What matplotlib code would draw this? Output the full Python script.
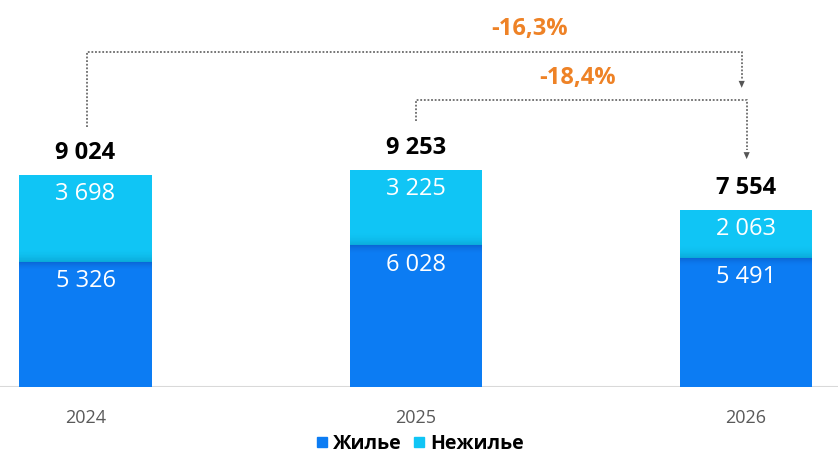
import numpy as np
import matplotlib
matplotlib.use("Agg")
import matplotlib.pyplot as plt
from matplotlib.colors import to_rgb
from matplotlib.lines import Line2D

# ---- data ----
years = ["2024", "2025", "2026"]
residential = [5326, 6028, 5491]       # Жилье
nonresidential = [3698, 3225, 2063]    # Нежилье
totals = [9024, 9253, 7554]
series_names = ["Жилье", "Нежилье"]
change_labels = ["-16,3%", "-18,4%"]

# ---- style ----
C_RES = "#0C7CF3"
C_NON = "#10C5F5"
C_ORANGE = "#EE8226"
C_DOT = "#6B6B6B"
plt.rcParams['font.family'] = ['Open Sans', 'DejaVu Sans']

W, H, DPI = 838, 458, 100
fig = plt.figure(figsize=(W / DPI, H / DPI), dpi=DPI)
base_px = 71  # baseline from bottom
ax = fig.add_axes([0, base_px / H, 1, 1 - base_px / H])
ax.set_xlim(-0.2589, 2.2786)
ax.set_ylim(0, 16475)
ax.axis("off")

x = np.arange(len(years))
bw = 0.40
ax.bar(x, residential, bw, color=C_RES, zorder=2, linewidth=0)
ax.bar(x, nonresidential, bw, bottom=residential, color=C_NON, zorder=2, linewidth=0)

# subtle shading at the segment boundary (thin slices)
n_sl = 24
up, dn = 600, 350
cn, cn2 = np.array(to_rgb(C_NON)), np.array(to_rgb("#0AA9D8"))
cr, cr2 = np.array(to_rgb(C_RES)), np.array(to_rgb("#0A66D6"))
for xi, r in zip(x, residential):
    for k in range(n_sl):
        t = (k + 0.5) / n_sl
        # above boundary: darker toward boundary
        col = cn * (1 - (1 - t) ** 2) + cn2 * (1 - t) ** 2
        ax.bar(xi, up / n_sl, bw, bottom=r + k * up / n_sl, color=col, linewidth=0, zorder=3)
        col2 = cr * (1 - (1 - t) ** 1.5) + cr2 * (1 - t) ** 1.5
        ax.bar(xi, dn / n_sl, bw, bottom=r - (k + 1) * dn / n_sl, color=col2, linewidth=0, zorder=3)

# baseline
ax.axhline(0, color="#D9D9D9", lw=1.5, zorder=1)

fmt = lambda v: f"{v:,}".replace(",", " ")

# labels inside bars
for xi, r, n in zip(x, residential, nonresidential):
    ax.annotate(fmt(r), (xi, r), xytext=(0, -14), textcoords="offset points",
                ha="center", va="center", color="white", fontsize=17, zorder=5)
    ax.annotate(fmt(n), (xi, r + n), xytext=(0, -14), textcoords="offset points",
                ha="center", va="center", color="white", fontsize=17, zorder=5)

# totals
for xi, t in zip(x, totals):
    ax.annotate(fmt(t), (xi, t), xytext=(0, 15.5), textcoords="offset points",
                ha="center", va="center", color="black", fontsize=17, fontweight="bold", zorder=5)

# year labels
for xi, yl in zip(x, years):
    ax.annotate(yl, (xi, 0), xytext=(0, -22), textcoords="offset points",
                ha="center", va="center", color="#595959", fontsize=13)

# brackets
gap = 2050
lvl2 = max(totals) + 2965
lvl1 = lvl2 + 2050
line_kw = dict(color=C_DOT, lw=1.3, ls=(0, (1, 1)), zorder=4)
arrow_kw = dict(arrowstyle="-|>,head_length=0.5,head_width=0.22", color="#555555", lw=0)

# bracket 1: 2024 -> 2026
xa, xb = x[0] + 0.005, x[2] - 0.013
ax.plot([xa, xa, xb, xb], [totals[0] + gap, lvl1, lvl1, lvl1 - 1150], **line_kw)
ax.annotate("", xy=(xb, lvl1 - 1650), xytext=(xb, lvl1 - 1150), arrowprops=arrow_kw, zorder=4)
ax.annotate(change_labels[0], (1.346, lvl1), xytext=(0, 16.5), textcoords="offset points",
            ha="center", va="center", color=C_ORANGE, fontsize=17, fontweight="bold")

# bracket 2: 2025 -> 2026
xa, xb = x[1], x[2] + 0.002
ax.plot([xa, xa, xb, xb], [totals[1] + gap, lvl2, lvl2, totals[2] + 2530], **line_kw)
ax.annotate("", xy=(xb, totals[2] + 2030), xytext=(xb, totals[2] + 2530), arrowprops=arrow_kw, zorder=4)
ax.annotate(change_labels[1], ((x[1] + x[2]) / 2 - 0.01, lvl2), xytext=(0, 15.5), textcoords="offset points",
            ha="center", va="center", color=C_ORANGE, fontsize=17, fontweight="bold")

# legend
handles = [Line2D([], [], marker="s", ls="", color=C_RES, markersize=7),
           Line2D([], [], marker="s", ls="", color=C_NON, markersize=7)]
fig.legend(handles, series_names, loc="center", bbox_to_anchor=(418 / W, 1 - 444 / H),
           ncol=2, frameon=False, handletextpad=0.05, columnspacing=0.4, handlelength=1.0,
           prop={"family": ["Open Sans", "DejaVu Sans"], "weight": "bold", "size": 14})

fig.savefig("out.png", dpi=DPI)
